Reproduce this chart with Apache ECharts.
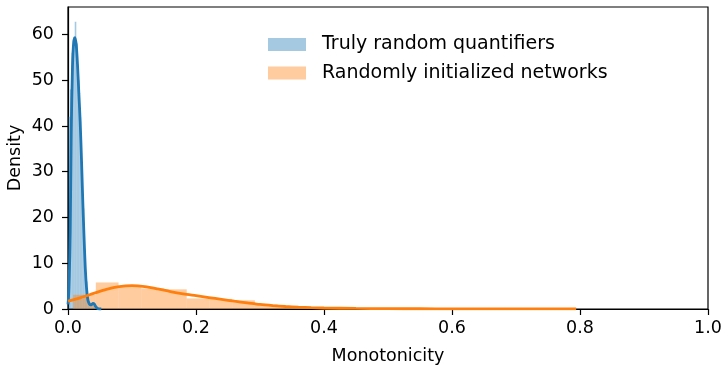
<!DOCTYPE html>
<html>
<head>
<meta charset="utf-8">
<script src="https://cdn.jsdelivr.net/npm/echarts@6/dist/echarts.min.js"></script>
<style>html,body{margin:0;padding:0;background:#fff}#c{width:723px;height:370px}</style>
</head>
<body>
<div id="c"></div>
<script>
// ---- data ----
const seriesNames = ['Truly random quantifiers', 'Randomly initialized networks'];
const xTicks = [0, 0.2, 0.4, 0.6, 0.8, 1.0];
const yTicks = [0, 10, 20, 30, 40, 50, 60];

// Truly random quantifiers: histogram
const blueEdges = [0.0005, 0.003, 0.0055, 0.008, 0.0105, 0.013, 0.0155, 0.018, 0.0205, 0.023, 0.0255, 0.028, 0.0305, 0.033, 0.0355, 0.038, 0.0405, 0.043, 0.0455];
const blueHeights = [42, 48, 56, 59.5, 62.8, 58, 50, 42, 32, 22, 13, 6, 2.5, 1.2, 1.0, 1.2, 1.0, 0.4];
// Truly random quantifiers: density curve
const blueKdeX = [0, 0.001, 0.002, 0.0035, 0.005, 0.007, 0.009, 0.011, 0.013, 0.015, 0.017, 0.019, 0.021, 0.023, 0.025, 0.027, 0.029, 0.031, 0.033, 0.035, 0.037, 0.039, 0.041, 0.043, 0.045, 0.048, 0.052];
const blueKdeY = [1, 3, 7, 17, 38, 53, 58.5, 59.3, 57.5, 53, 47, 41, 33, 24, 16, 9, 4.5, 2, 1.2, 0.9, 1.0, 1.2, 1.1, 0.6, 0.25, 0.05, 0];

// Randomly initialized networks: histogram
const orangeEdges = [0.008, 0.0435, 0.079, 0.1145, 0.15, 0.1855, 0.221, 0.2565, 0.292, 0.3275, 0.363, 0.3985, 0.434, 0.4695, 0.505, 0.5405, 0.576, 0.6115, 0.647, 0.6825, 0.718, 0.7535, 0.789];
const orangeHeights = [3.1, 5.8, 5.0, 4.5, 4.3, 2.3, 2.2, 1.9, 1.0, 0.5, 0.3, 0.2, 0.15, 0.1, 0.08, 0.06, 0.05, 0.05, 0.04, 0.04, 0.03, 0.03];
// Randomly initialized networks: density curve
const orangeKdeX = [0, 0.02, 0.04, 0.06, 0.08, 0.10, 0.12, 0.14, 0.16, 0.18, 0.20, 0.22, 0.24, 0.26, 0.28, 0.30, 0.32, 0.34, 0.36, 0.38, 0.40, 0.45, 0.50, 0.55, 0.60, 0.70, 0.794];
const orangeKdeY = [1.7, 2.5, 3.4, 4.3, 4.9, 5.1, 4.9, 4.4, 3.8, 3.3, 2.9, 2.5, 2.1, 1.7, 1.35, 1.0, 0.75, 0.55, 0.4, 0.3, 0.22, 0.12, 0.07, 0.05, 0.04, 0.03, 0.02];

// ---- build ----
const BLUE = '#1f77b4', ORANGE = '#ff7f0e';
const BLUE_FILL = 'rgba(31,119,180,0.4)', ORANGE_FILL = 'rgba(255,127,14,0.4)';
function bins(edges, heights) {
  return heights.map((h, i) => [edges[i], edges[i + 1], h]);
}
function pairs(xs, ys) { return xs.map((x, i) => [x, ys[i]]); }
function histRender(fill) {
  return function (params, api) {
    const p0 = api.coord([api.value(0), api.value(2)]);
    const p1 = api.coord([api.value(1), 0]);
    return {
      type: 'rect',
      shape: { x: p0[0], y: p0[1], width: p1[0] - p0[0], height: p1[1] - p0[1] },
      style: { fill: fill, stroke: null }
    };
  };
}
const FONT = 'DejaVu Sans';
const TICK_FS = 17.5;
const chart = echarts.init(document.getElementById('c'), null, { renderer: 'canvas' });
chart.setOption({
  animation: false,
  backgroundColor: '#fff',
  textStyle: { fontFamily: FONT },
  grid: { left: 68, right: 15, top: 7, bottom: 61, containLabel: false, outerBoundsMode: 'none',
    show: true, borderColor: '#000', borderWidth: 1.2, backgroundColor: 'transparent' },
  legend: {
    left: 268, top: 34, padding: 0, orient: 'vertical', itemWidth: 38, itemHeight: 13, itemGap: 7.5,
    icon: 'rect',
    textStyle: { fontFamily: FONT, fontSize: 19, lineHeight: 21, color: '#000', padding: [0, 0, 0, 11] },
    data: [
      { name: seriesNames[0], itemStyle: { color: '#a5c9e1' } },
      { name: seriesNames[1], itemStyle: { color: '#ffcc9f' } }
    ]
  },
  xAxis: {
    type: 'value', min: 0, max: 1, interval: 0.2,
    name: 'Monotonicity', nameLocation: 'middle', nameGap: 38, nameMoveOverlap: false,
    nameTextStyle: { fontFamily: FONT, fontSize: TICK_FS, color: '#000' },
    axisLine: { show: true, onZero: false, lineStyle: { color: '#000', width: 1.2 } },
    axisTick: { show: true, length: 6, lineStyle: { color: '#000', width: 1.2 } },
    axisLabel: { fontFamily: FONT, fontSize: TICK_FS, color: '#000', margin: 10, formatter: v => v.toFixed(1) },
    splitLine: { show: false }
  },
  yAxis: {
    type: 'value', min: 0, max: 66, interval: 10,
    name: 'Density', nameLocation: 'middle', nameGap: 44, nameRotate: 90, nameMoveOverlap: false,
    nameTextStyle: { fontFamily: FONT, fontSize: TICK_FS, color: '#000' },
    axisLine: { show: true, lineStyle: { color: '#000', width: 1.2 } },
    axisTick: { show: true, length: 6, lineStyle: { color: '#000', width: 1.2 }, customValues: yTicks },
    axisLabel: { fontFamily: FONT, fontSize: TICK_FS, color: '#000', margin: 14, customValues: yTicks,
      formatter: v => (yTicks.indexOf(v) >= 0 ? String(v) : '') },
    splitLine: { show: false }
  },
  series: [
    { name: seriesNames[0], type: 'custom', renderItem: histRender(BLUE_FILL), itemStyle: { color: '#a5c9e1' },
      encode: { x: [0, 1], y: 2 }, data: bins(blueEdges, blueHeights), clip: true },
    { name: 'kde_blue', type: 'line', data: pairs(blueKdeX, blueKdeY), showSymbol: false, smooth: 0.3,
      lineStyle: { color: BLUE, width: 2.8 }, itemStyle: { color: BLUE }, clip: true },
    { name: seriesNames[1], type: 'custom', renderItem: histRender(ORANGE_FILL), itemStyle: { color: '#ffcc9f' },
      encode: { x: [0, 1], y: 2 }, data: bins(orangeEdges, orangeHeights), clip: true },
    { name: 'kde_orange', type: 'line', data: pairs(orangeKdeX, orangeKdeY), showSymbol: false, smooth: 0.3,
      lineStyle: { color: ORANGE, width: 2.8 }, itemStyle: { color: ORANGE }, clip: true }
  ]
});
</script>
</body>
</html>
